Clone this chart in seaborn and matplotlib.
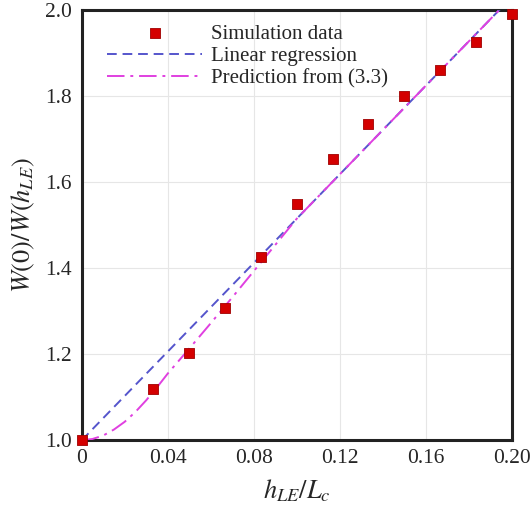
import matplotlib
matplotlib.use("Agg")
import matplotlib.pyplot as plt
import pandas as pd
import seaborn as sns

# data
sim_x = [0, 0.0333, 0.05, 0.0667, 0.0833, 0.1, 0.1167, 0.1333, 0.15, 0.1667, 0.1833, 0.2]
sim_y = [1.0, 1.119, 1.202, 1.307, 1.426, 1.548, 1.654, 1.735, 1.80, 1.861, 1.925, 1.99]

reg_x = [0, 0.2]
reg_y = [1.0, 2.03]

pred_x = [0, 0.005, 0.01, 0.015, 0.02, 0.025, 0.03, 0.035, 0.04, 0.05, 0.06, 0.07,
          0.08, 0.09, 0.1, 0.12, 0.14, 0.16, 0.18, 0.2]
pred_y = [1.0, 1.003, 1.011, 1.025, 1.043, 1.066, 1.093, 1.123, 1.155, 1.213, 1.272,
          1.332, 1.393, 1.454, 1.515, 1.618, 1.721, 1.824, 1.927, 2.03]

xticks = [0, 0.04, 0.08, 0.12, 0.16, 0.20]
xtick_labels = ["0", "0.04", "0.08", "0.12", "0.16", "0.20"]
yticks = [1.0, 1.2, 1.4, 1.6, 1.8, 2.0]
ytick_labels = ["1.0", "1.2", "1.4", "1.6", "1.8", "2.0"]

sim = pd.DataFrame({"x": sim_x, "y": sim_y})
reg = pd.DataFrame({"x": reg_x, "y": reg_y})
pred = pd.DataFrame({"x": pred_x, "y": pred_y})

sns.set_theme(style="white")
plt.rcParams["font.family"] = ["Liberation Serif", "DejaVu Serif"]
plt.rcParams["mathtext.fontset"] = "stix"

fig = plt.figure(figsize=(5.32, 5.07), dpi=100)
ax = fig.add_axes([0.1536, 0.1316, 0.8084, 0.8487])

sns.scatterplot(data=sim, x="x", y="y", ax=ax, marker="s", s=55, color="#d40000",
                edgecolor="#a00000", linewidth=0.6, label="Simulation data",
                clip_on=False, zorder=5)
sns.lineplot(data=reg, x="x", y="y", ax=ax, color="#5555cc", linewidth=1.4,
             label="Linear regression", zorder=3)
ax.lines[-1].set_dashes([5, 3])
sns.lineplot(data=pred, x="x", y="y", ax=ax, color="#e040e0", linewidth=1.4,
             label="Prediction from (3.3)", zorder=4)
ax.lines[-1].set_dashes([9, 3, 1.5, 3])

ax.set_xlim(0, 0.2)
ax.set_ylim(1.0, 2.0)
ax.set_xticks(xticks)
ax.set_xticklabels(xtick_labels)
ax.set_yticks(yticks)
ax.set_yticklabels(ytick_labels)
ax.tick_params(direction="in", length=6, width=2, labelsize=15.5, pad=6, color="#222222")
ax.tick_params(axis="y", pad=7)
ax.grid(True, color="#e6e6e6", linewidth=0.8)
for sp in ax.spines.values():
    sp.set_visible(True)
    sp.set_linewidth(2.2)
    sp.set_color("#222222")

ax.set_xlabel(r"$h_{LE}/L_c$", fontsize=19, labelpad=7)
ax.set_ylabel(r"$W(0)/W(h_{LE})$", fontsize=19, labelpad=6)

leg = ax.legend(loc="upper left", bbox_to_anchor=(0.058, 0.967), frameon=False,
                fontsize=15, handlelength=4.6, handletextpad=0.43,
                labelspacing=0.13, borderaxespad=0, borderpad=0)

fig.savefig("out.png", dpi=100)
